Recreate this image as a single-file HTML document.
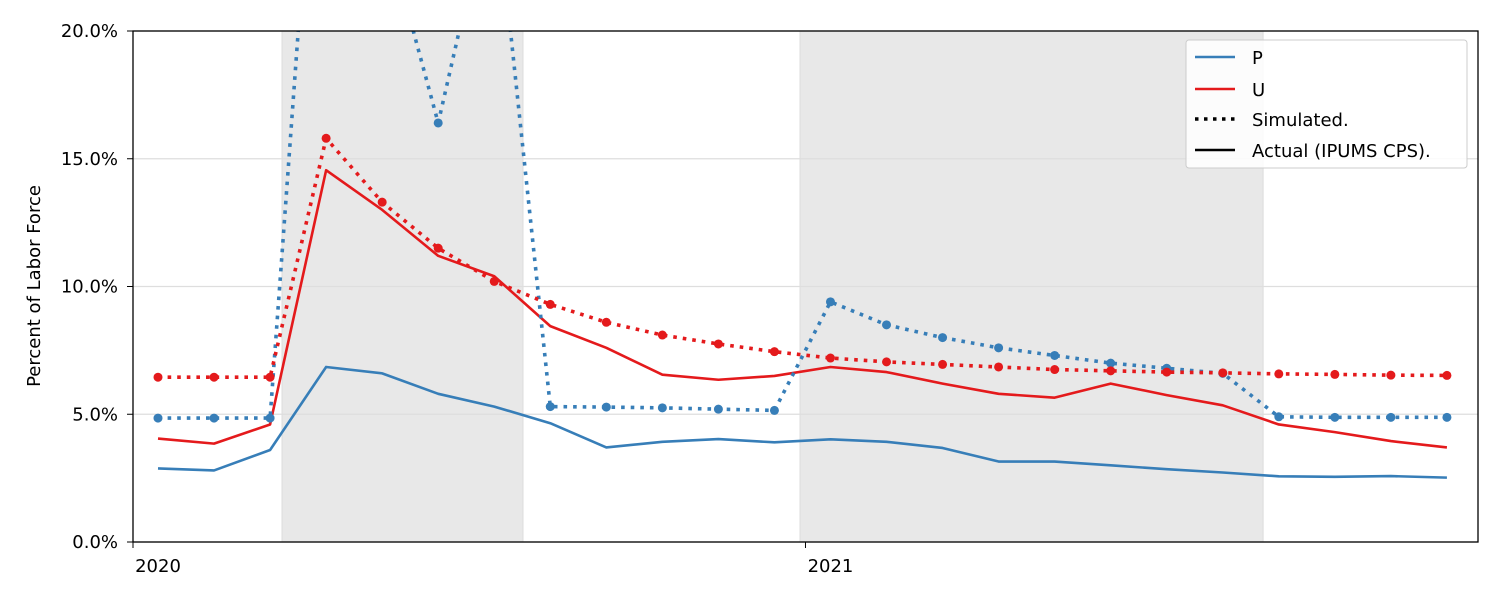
<!DOCTYPE html>
<html><head><meta charset="utf-8"><style>
body{margin:0;background:#fff;}
svg text{font-family:"DejaVu Sans","Liberation Sans",sans-serif;}
</style></head><body>
<svg width="1500" height="600" viewBox="0 0 1500 600">
<defs><clipPath id="clip"><rect x="133" y="31" width="1345" height="511"/></clipPath></defs>
<g id="bg"></g>
<g id="grid"></g>
<g id="series" clip-path="url(#clip)"></g>
<rect x="133" y="31" width="1345" height="511" fill="none" stroke="#000" stroke-width="1.3"/>
<g id="axes"></g>
<text x="40" y="286" font-size="18" text-anchor="middle" transform="rotate(-90 40 286)">Percent of Labor Force</text>
<g>
<rect x="1186" y="40" width="281" height="128" rx="3" fill="#fff" fill-opacity="0.85" stroke="#ccc"/>
<line x1="1195" y1="57" x2="1235" y2="57" stroke="#377eb8" stroke-width="2.5"/>
<text x="1252" y="64" font-size="18">P</text>
<line x1="1195" y1="89" x2="1235" y2="89" stroke="#e41a1c" stroke-width="2.5"/>
<text x="1252" y="96" font-size="18">U</text>
<line x1="1195" y1="119" x2="1235" y2="119" stroke="#000" stroke-width="3.5" stroke-dasharray="3.5,5.5"/>
<text x="1252" y="126" font-size="18">Simulated.</text>
<line x1="1195" y1="150" x2="1235" y2="150" stroke="#000" stroke-width="2.5"/>
<text x="1252" y="157" font-size="18">Actual (IPUMS CPS).</text>
</g>
</svg>
<script>
const months = Array.from({length:24},(_,i)=>i);
const simP = [4.85,4.85,4.85,35,24.5,16.4,26,5.3,5.28,5.25,5.2,5.15,9.4,8.5,8.0,7.6,7.3,7.0,6.8,6.6,4.9,4.88,4.88,4.88];
const simU = [6.45,6.45,6.45,15.8,13.3,11.5,10.2,9.3,8.6,8.1,7.75,7.45,7.2,7.05,6.95,6.85,6.75,6.7,6.65,6.62,6.58,6.56,6.53,6.52];
const actU = [4.05,3.85,4.6,14.55,13.0,11.2,10.4,8.45,7.6,6.55,6.35,6.5,6.85,6.65,6.2,5.8,5.65,6.2,5.75,5.35,4.6,4.3,3.95,3.7];
const actP = [2.88,2.8,3.6,6.85,6.6,5.8,5.3,4.65,3.7,3.92,4.03,3.9,4.02,3.92,3.68,3.15,3.15,3.0,2.85,2.72,2.57,2.55,2.58,2.52];
const yTicks = [0,5,10,15,20];
const yTickLabels = ["0.0%","5.0%","10.0%","15.0%","20.0%"];
const xTicks = [0,12];
const xTickLabels = ["2020","2021"];
const shaded = [[2.213,6.513],[11.456,19.72]];
const NS="http://www.w3.org/2000/svg";
const X = m => 158 + m*56.04;
const Y = v => 542 - v*25.55;
function mk(tag, attrs, parent){const e=document.createElementNS(NS,tag);for(const k in attrs)e.setAttribute(k,attrs[k]);parent.appendChild(e);return e;}
const bg=document.getElementById('bg'), grid=document.getElementById('grid'), ser=document.getElementById('series'), axes=document.getElementById('axes');
shaded.forEach(s=>{const r=mk('rect',{x:X(s[0]),y:31,width:X(s[1])-X(s[0]),height:511,fill:'#e8e8e8',stroke:'#dcdcdc'},bg);

});
yTicks.forEach((t,i)=>{
 const g=mk('line',{x1:133,x2:1478,y1:Y(t),y2:Y(t),stroke:'#dedede','stroke-width':1.3},grid);
 
 
 mk('line',{x1:127,x2:133,y1:Y(t),y2:Y(t),stroke:'#000'},axes);
 const tx=mk('text',{x:118,y:Y(t)+6,'font-size':18,'text-anchor':'end'},axes);tx.textContent=yTickLabels[i];
 
 
});
xTicks.forEach((t,i)=>{
 mk('line',{x1:X(t)-25,x2:X(t)-25,y1:542,y2:548,stroke:'#000'},axes);
 const tx=mk('text',{x:X(t),y:572,'font-size':18,'text-anchor':'middle'},axes);tx.textContent=xTickLabels[i];
 
 
});
function series(vals,color,dotted,name){
 const pts=vals.map((v,i)=>X(months[i])+','+Y(v)).join(' ');
 const p=mk('polyline',{points:pts,fill:'none',stroke:color,'stroke-width':dotted?3.6:2.6,'stroke-linejoin':'round'},ser);
 if(dotted){p.setAttribute('stroke-dasharray','3.6,6');}
 
 
 if(dotted) vals.forEach((v,i)=>{const c=mk('circle',{cx:X(months[i]),cy:Y(v),r:4.5,fill:color},ser);
  
  });
}
series(actP,'#377eb8',false,'actual-p-line');
series(actU,'#e41a1c',false,'actual-u-line');
series(simP,'#377eb8',true,'simulated-p-line');
series(simU,'#e41a1c',true,'simulated-u-line');
</script>
</body></html>
